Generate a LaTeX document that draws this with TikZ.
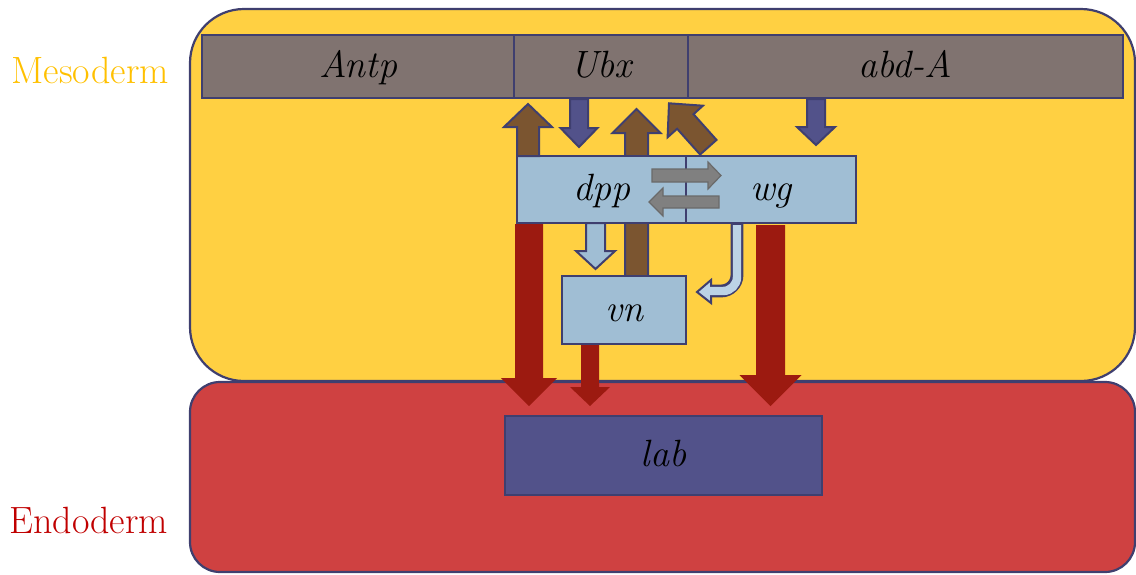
\documentclass[tikz,border=0pt]{standalone}
\definecolor{yel}{HTML}{FFD042}
\definecolor{redbg}{HTML}{CF4141}
\definecolor{edge}{HTML}{3F3F6F}
\definecolor{greybar}{HTML}{807370}
\definecolor{lblue}{HTML}{A0BED4}
\definecolor{brn}{HTML}{7B5530}
\definecolor{dblue}{HTML}{52528A}
\definecolor{dred}{HTML}{9C1A10}
\definecolor{pale}{HTML}{BCD3E6}
\definecolor{garr}{HTML}{808080}
\definecolor{garredge}{HTML}{6A6A6A}
\definecolor{meso}{HTML}{FFC000}
\definecolor{endo}{HTML}{C00000}
% vertical block arrow: [style]{cx}{ytail}{ybase}{ytip}{shaft half}{head half}
\newcommand{\varr}[7][]{%
  \draw[#1] ({#2-#6},#3) -- ({#2-#6},#4) -- ({#2-#7},#4) -- (#2,#5) -- ({#2+#7},#4) -- ({#2+#6},#4) -- ({#2+#6},#3) -- cycle;}
% horizontal block arrow: [style]{cy}{xtail}{xbase}{xtip}{shaft half}{head half}
\newcommand{\harr}[7][]{%
  \draw[#1] (#3,{#2-#6}) -- (#4,{#2-#6}) -- (#4,{#2-#7}) -- (#5,#2) -- (#4,{#2+#7}) -- (#4,{#2+#6}) -- (#3,{#2+#6}) -- cycle;}
\begin{document}
\begin{tikzpicture}[x=0.5pt,y=-0.5pt,
  lbl/.style={font=\fontsize{19}{23}\selectfont\itshape, text=black, text height=12pt, text depth=1pt, inner sep=0pt},
  genebox/.style={lbl, draw=edge, line width=1.2pt, fill=greybar, minimum height=31.5pt},
  sigbox/.style={lbl, draw=edge, line width=1.2pt, fill=lblue},
  labbox/.style={lbl, draw=edge, line width=1.2pt, fill=dblue},
  layer/.style={draw=edge, line width=1.1pt},
  brarr/.style={fill=brn, draw=edge, line width=1pt, line join=miter},
  blarr/.style={fill=dblue, draw=edge, line width=1pt},
  lbarr/.style={fill=lblue, draw=edge, line width=1pt},
  grarr/.style={fill=garr, draw=garredge, line width=0.6pt},
  rdarr/.style={fill=dred, draw=none},
  germ/.style={font=\fontsize{19}{23}\selectfont, inner sep=0pt, anchor=base west}
]
\useasboundingbox (0,0) rectangle (1136,574);

% germ layers
\draw[layer, fill=yel, rounded corners=27pt] (190,9) rectangle (1135,381);
\draw[layer, fill=redbg, rounded corners=15pt] (190,382) rectangle (1135,572);
\node[germ, text=meso] (meso) at (11,83) {Mesoderm};
\node[germ, text=endo] (endo) at (9,533) {Endoderm};

% long brown arrow vn -> Ubx (behind dpp box)
\varr[brarr]{636.5}{276}{133}{109}{11.5}{24}

% Hox gene bar
\node[genebox, minimum width=156pt] (antp) at (358,66.5) {Antp};
\node[genebox, minimum width=87pt] (ubx) at (601,66.5) {Ubx};
\node[genebox, minimum width=217.5pt] (abda) at (905.5,66.5) {abd-A};

% signalling boxes
\node[sigbox, minimum width=84.5pt, minimum height=33.5pt] (dpp) at (601.5,189.5) {dpp};
\node[sigbox, minimum width=85pt, minimum height=33.5pt] (wg) at (771,189.5) {wg};
\node[sigbox, minimum width=62pt, minimum height=34pt] (vn) at (624,310) {vn};
\node[labbox, minimum width=158.5pt, minimum height=39.5pt] (lab) at (663.5,455.5) {lab};

% arrows between Hox genes and dpp/wg
\varr[brarr]{528}{156}{127}{104}{11}{24}
\varr[blarr]{579}{99}{128}{147}{9}{18.5}
\varr[blarr]{816}{99}{127}{145}{9}{19}
\draw[brarr] (716.5,139.9) -- (693.5,114.2) -- (702.9,105.7) -- (669.0,103.3)
  -- (667.6,137.3) -- (677.1,128.8) -- (700.1,154.5) -- cycle;

% dpp <-> wg
\harr[grarr]{175.5}{652}{708}{721}{6.5}{13.5}
\harr[grarr]{202}{719}{663}{649}{6}{14}

% dpp -> vn
\varr[lbarr]{595.5}{223}{251}{269}{9.5}{19.5}

% wg -> vn (bent arrow)
\draw[edge, line width=6.4pt, rounded corners=8pt] (737,224) -- (737,291) -- (711,291);
\draw[fill=pale, draw=edge, line width=1pt, line join=miter] (711,280) -- (697,292) -- (711,303) -- cycle;
\draw[pale, line width=4.2pt, rounded corners=7pt] (737,225) -- (737,291) -- (709,291);

% arrows into endoderm
\varr[rdarr]{529}{224}{378}{406}{14}{28}
\varr[rdarr]{590}{345}{387}{406}{9}{20}
\varr[rdarr]{770.5}{225}{375}{406}{14.5}{31}
\end{tikzpicture}
\end{document}
